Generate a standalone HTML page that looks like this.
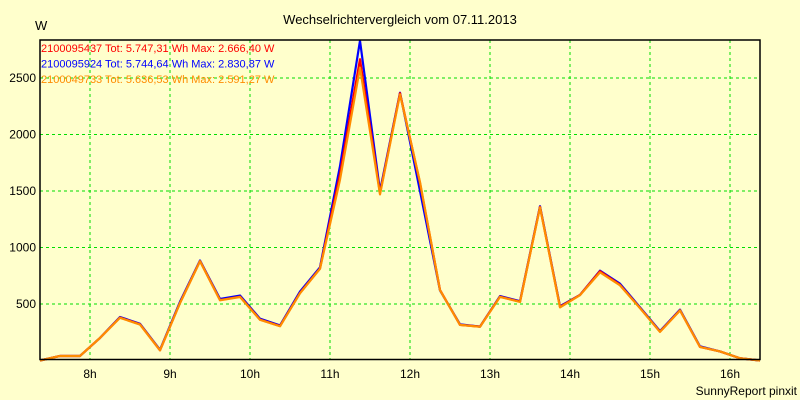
<!DOCTYPE html>
<html><head><meta charset="utf-8"><style>
body{margin:0;background:#ffffcc;}
svg{display:block;font-family:"Liberation Sans",sans-serif;}
</style></head><body>
<svg id="chart" width="800" height="400">
<rect width="800" height="400" fill="#ffffcc"/>
<text x="400" y="24" text-anchor="middle" font-size="13" fill="#000">Wechselrichtervergleich vom 07.11.2013</text>
<text x="35" y="30" font-size="13" fill="#000">W</text>
<text x="797" y="395" text-anchor="end" font-size="12" fill="#000">SunnyReport pinxit</text>
<g id="grid"></g><g id="series"></g>
<rect x="40" y="40" width="720" height="319.5" fill="none" stroke="#000" stroke-width="1.5"/>
<g id="legend"></g>
</svg>
<script>
const xTicks=[8,9,10,11,12,13,14,15,16];
const yTicks=[500,1000,1500,2000,2500];
const times=[7.375,7.625,7.875,8.125,8.375,8.625,8.875,9.125,9.375,9.625,9.875,10.125,10.375,10.625,10.875,11.125,11.375,11.625,11.875,12.125,12.375,12.625,12.875,13.125,13.375,13.625,13.875,14.125,14.375,14.625,14.875,15.125,15.375,15.625,15.875,16.125,16.375];
const seriesBlue=[0,40,40,200,385,325,95,520,885,545,575,370,310,610,825,1720,2830,1500,2370,1500,620,320,300,570,525,1365,480,580,795,680,470,260,450,125,80,20,0];
const seriesRed=[0,40,40,200,380,320,90,510,880,535,565,362,305,598,815,1650,2666,1480,2365,1570,625,315,300,565,520,1360,475,580,790,670,465,255,445,120,80,20,0];
const seriesOrange=[0,40,40,200,378,318,90,508,878,533,562,360,303,595,812,1600,2591,1470,2355,1580,622,315,298,563,518,1355,470,578,780,665,463,253,443,120,80,20,0];
const names=["2100095437 Tot: 5.747,31 Wh Max: 2.666,40 W","2100095924 Tot: 5.744,64 Wh Max: 2.830,87 W","2100049733 Tot: 5.636,53 Wh Max: 2.591,27 W"];
const NS="http://www.w3.org/2000/svg";
const X=t=>90+(t-8)*80;
const Y=v=>360.5-v*56.5/500;
const grid=document.getElementById('grid');
function mk(tag,attrs,parent){const e=document.createElementNS(NS,tag);for(const k in attrs)e.setAttribute(k,attrs[k]);parent.appendChild(e);return e;}
xTicks.forEach(t=>{
 const l=mk('line',{x1:X(t),x2:X(t),y1:40,y2:359,stroke:'#00dd00','stroke-dasharray':'3,3','stroke-width':1},grid);
 
 
 const tx=mk('text',{x:X(t),y:378,'text-anchor':'middle','font-size':12},grid);
 tx.textContent=t+'h';
 
 
});
yTicks.forEach(v=>{
 const l=mk('line',{x1:40,x2:760,y1:Y(v),y2:Y(v),stroke:'#00dd00','stroke-dasharray':'3,3','stroke-width':1},grid);
 
 
 const tx=mk('text',{x:36,y:Y(v)+4,'text-anchor':'end','font-size':12},grid);
 tx.textContent=v;
 
 
});
const sg=document.getElementById('series');
[[seriesBlue,'#0000ff','series-2100095924'],[seriesRed,'#ff0000','series-2100095437'],[seriesOrange,'#ff8c00','series-2100049733']].forEach(([d,c,n])=>{
 const p=mk('polyline',{points:d.map((v,i)=>X(times[i])+','+Y(v)).join(' '),fill:'none',stroke:c,'stroke-width':2.2,'stroke-linejoin':'round'},sg);
 
 
});
const lg=document.getElementById('legend');
const cols=['#ff0000','#0000ff','#ff8c00'];
names.forEach((s,i)=>{
 const tx=mk('text',{x:41,y:52+i*15.5,'font-size':11,fill:cols[i]},lg);
 tx.textContent=s;
 
 
});
</script>
</body></html>
